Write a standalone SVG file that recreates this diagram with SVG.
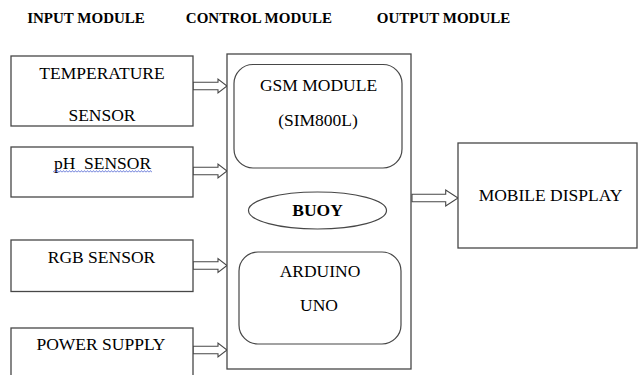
<svg xmlns="http://www.w3.org/2000/svg" width="638" height="375" viewBox="0 0 638 375">
  <style>
    .box { fill: #ffffff; stroke: #474747; stroke-width: 1.3; }
    .inner { fill: none; stroke: #474747; stroke-width: 1.2; }
    .arrow { fill: #ffffff; stroke: #474747; stroke-width: 1.1; stroke-linejoin: miter; }
    text { font-family: 'Liberation Serif', Tinos, 'Times New Roman', 'DejaVu Serif', serif; fill: #000; }
    .hdr { font-weight: bold; font-size: 15px; text-anchor: middle; }
    .lbl { font-size: 17.5px; text-anchor: middle; }
    .bold { font-weight: bold; }
  </style>
  <defs>
    <!-- hollow block arrow, tip at origin -->
    <path id="blk" d="M-34,-3.8 H-9 V-7 L0,0 L-9,7 V3.8 H-34 Z"/>
    <pattern id="squiggle" x="53" y="170" width="3" height="3" patternUnits="userSpaceOnUse">
      <polyline points="0,2.4 1.5,0.6 3,2.4" fill="none" stroke="#4a5fd0" stroke-width="0.8"/>
    </pattern>
  </defs>
  <rect width="638" height="375" fill="#ffffff"/>

  <!-- column headings -->
  <g id="headings">
    <text class="hdr" x="86" y="23">INPUT MODULE</text>
    <text class="hdr" x="259" y="23">CONTROL MODULE</text>
    <text class="hdr" x="443.5" y="23">OUTPUT MODULE</text>
  </g>

  <!-- connectors -->
  <g id="connectors">
    <use href="#blk" class="arrow" transform="translate(227,86)"/>
    <use href="#blk" class="arrow" transform="translate(227,171)"/>
    <use href="#blk" class="arrow" transform="translate(227,265.5)"/>
    <use href="#blk" class="arrow" transform="translate(227,350)"/>
    <path class="arrow" d="M412,194.3 H445.7 V190 L458,198 L445.7,206 V201.7 H412 Z"/>
  </g>

  <!-- input module -->
  <g id="temperature-sensor">
    <rect class="box" x="11" y="56" width="182" height="70"/>
    <text class="lbl" x="102" y="78.5">TEMPERATURE</text>
    <text class="lbl" x="102" y="121">SENSOR</text>
  </g>
  <g id="ph-sensor">
    <rect class="box" x="11" y="147" width="182" height="50"/>
    <text class="lbl" x="102.5" y="169" style="white-space:pre">pH  SENSOR</text>
    <rect x="53" y="170" width="99" height="3" fill="url(#squiggle)"/>
  </g>
  <g id="rgb-sensor">
    <rect class="box" x="11" y="240" width="182" height="51.5"/>
    <text class="lbl" x="101.5" y="262.5">RGB SENSOR</text>
  </g>
  <g id="power-supply">
    <rect class="box" x="11" y="328" width="182" height="60"/>
    <text class="lbl" x="101" y="349.5">POWER SUPPLY</text>
  </g>

  <!-- control module -->
  <g id="control-module">
    <rect class="box" x="227" y="54" width="184" height="315"/>
  </g>
  <g id="gsm-module">
    <rect class="inner" x="234" y="64.5" width="168" height="103.5" rx="19" ry="19"/>
    <text class="lbl" x="318.5" y="90.5">GSM MODULE</text>
    <text class="lbl" x="318" y="126">(SIM800L)</text>
  </g>
  <g id="buoy">
    <ellipse class="inner" cx="317.5" cy="210.5" rx="69" ry="18.5"/>
    <text class="lbl bold" x="317.5" y="215.5">BUOY</text>
  </g>
  <g id="arduino-uno">
    <rect class="inner" x="239" y="252" width="162" height="92" rx="19" ry="19"/>
    <text class="lbl" x="320" y="277">ARDUINO</text>
    <text class="lbl" x="319" y="311">UNO</text>
  </g>

  <!-- output module -->
  <g id="mobile-display">
    <rect class="box" x="458" y="143" width="179" height="105"/>
    <text class="lbl" x="550.5" y="201">MOBILE DISPLAY</text>
  </g>
</svg>
